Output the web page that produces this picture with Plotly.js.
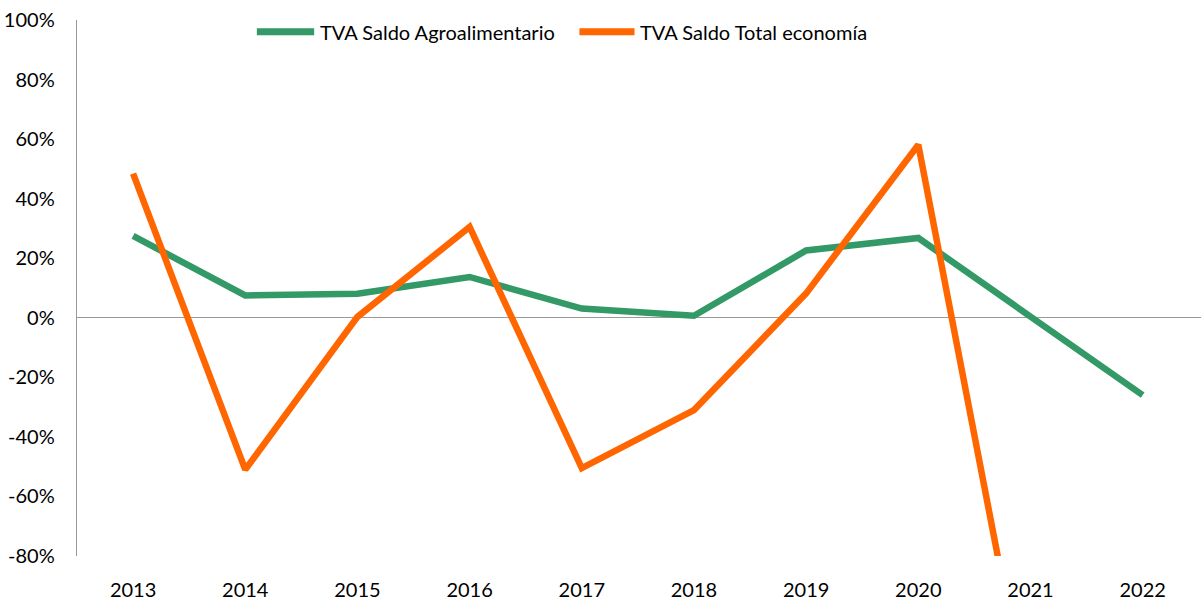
<!DOCTYPE html>
<html>
<head>
<meta charset="utf-8">
<script src="https://cdn.plot.ly/plotly-3.0.1.min.js"></script>
<style>html,body{margin:0;padding:0;background:#fff;}#chart{width:1201px;height:601px;}</style>
</head>
<body>
<div id="chart"></div>
<script>
const years = ["2013","2014","2015","2016","2017","2018","2019","2020","2021","2022"];
const agroalimentario = [27.5, 7.5, 8.1, 13.7, 3.1, 0.7, 22.6, 26.8, 0.4, -26.0];
const totalEconomia = [48.4, -51.0, 0.3, 30.5, -50.5, -31.0, 8.2, 58.1, -137.0, null];
const seriesNames = ["TVA Saldo Agroalimentario", "TVA Saldo Total economía"];
const seriesColors = ["#339966", "#FF6600"];
const yTicks = [-80, -60, -40, -20, 0, 20, 40, 60, 80, 100];
const yTickText = yTicks.map(v => v + "%");

const traces = [
  {x: years, y: agroalimentario, name: seriesNames[0], type: "scatter", mode: "lines",
   line: {color: seriesColors[0], width: 6.5}, showlegend: false},
  {x: years, y: totalEconomia, name: seriesNames[1], type: "scatter", mode: "lines",
   line: {color: seriesColors[1], width: 6.5}, connectgaps: false, showlegend: false}
];

// Manual legend (line samples + labels) placed in paper coordinates
const legendY = 0.978;
const legendItems = [
  {x0: 0.160, x1: 0.211, tx: 0.214},
  {x0: 0.447, x1: 0.496, tx: 0.499}
];
const shapes = legendItems.map((it, i) => ({
  type: "line", xref: "paper", yref: "paper", x0: it.x0, x1: it.x1, y0: legendY, y1: legendY,
  line: {color: seriesColors[i], width: 7}
}));
const annotations = legendItems.map((it, i) => ({
  xref: "paper", yref: "paper", x: it.tx, y: legendY, xanchor: "left", yanchor: "middle",
  text: seriesNames[i], showarrow: false, font: {size: 20, color: "#000"}
}));

const layout = {
  width: 1201, height: 601,
  margin: {l: 77, r: 0, t: 20, b: 45},
  paper_bgcolor: "#fff", plot_bgcolor: "#fff",
  font: {family: "Lato, 'Open Sans', sans-serif", size: 20, color: "#000"},
  showlegend: false,
  shapes: shapes,
  annotations: annotations,
  xaxis: {type: "category", range: [-0.5, 9.52], showgrid: false, zeroline: false, showline: false,
          ticks: "", tickfont: {size: 20}, ticklabelstandoff: 20, fixedrange: true},
  yaxis: {range: [-80, 100], tickvals: yTicks, ticktext: yTickText, showgrid: false,
          zeroline: true, zerolinecolor: "#999", zerolinewidth: 1.3,
          showline: true, linecolor: "#999", linewidth: 1.3, ticks: "", ticklabelstandoff: 17,
          tickfont: {size: 20}, fixedrange: true}
};

Plotly.newPlot("chart", traces, layout, {displayModeBar: false, staticPlot: true});
</script>
</body>
</html>
